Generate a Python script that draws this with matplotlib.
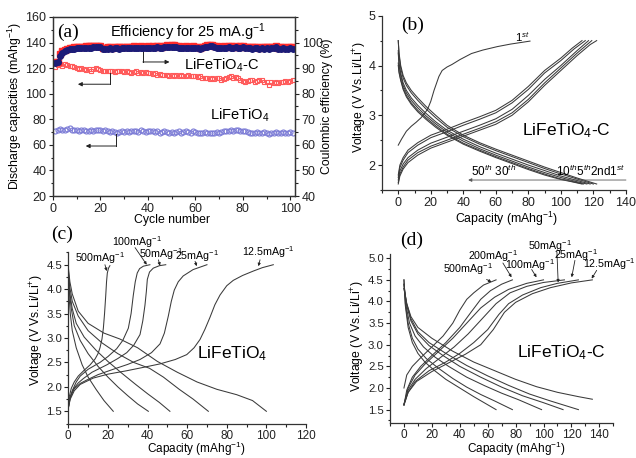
import matplotlib
matplotlib.use("Agg")
import matplotlib.pyplot as plt
from matplotlib.ticker import MultipleLocator

plt.rcParams['font.family'] = ['Liberation Sans', 'DejaVu Sans']
plt.rcParams['mathtext.fontset'] = 'custom'
plt.rcParams['mathtext.rm'] = 'Liberation Sans'
plt.rcParams['mathtext.it'] = 'Liberation Sans:italic'
plt.rcParams['mathtext.bf'] = 'Liberation Sans:bold'

# ---------------- (a) cycling data ----------------
cycles = list(range(1, 102))

cap_lft_c = [121, 122.5, 123, 122, 123, 122.5, 121.5, 122, 121, 120,
             119.5, 120, 119, 118.5, 119, 118, 119.5, 120, 119, 118.5,
             118, 117.5, 118, 117.5, 118, 117, 117.5, 118, 117.5, 117,
             117.5, 117, 116.5, 117, 117.5, 116.5, 117, 116, 117, 116.5,
             116, 115.5, 116, 115, 115.5, 115, 114.5, 115, 114, 114.5,
             114, 115, 114, 114.5, 113.5, 114, 115, 114, 113.5, 114,
             113, 113.5, 112.5, 112, 112.5, 111.5, 112, 111.5, 112, 112,
             111, 111.5, 112, 113, 113.5, 112.5, 113, 112, 111, 110,
             109.5, 110, 111, 110.5, 109.5, 110, 110.5, 111, 109.5, 109,
             107, 109, 108.5, 109, 108, 109.5, 109, 110, 109.5, 110, 110.5]

cap_lft = [71, 72, 72.5, 72, 71.5, 72.5, 73, 72, 71.5, 72,
           71, 71.5, 72, 71, 70.5, 71.5, 71, 72, 71.5, 72,
           71, 71.5, 70.5, 70, 70.5, 70, 69.5, 70, 70.5, 70,
           70.5, 70, 71, 70.5, 71, 70, 71.5, 70.5, 70, 71,
           70.5, 71, 70, 70.5, 69.5, 70, 70.5, 70, 69.5, 70,
           69.5, 70, 70.5, 69.5, 70, 70.5, 70, 69.5, 70.5, 70,
           69.5, 69, 69.5, 70, 69, 69.5, 69, 69.5, 70, 69.5,
           70, 70.5, 71, 70.5, 71.5, 71, 72, 71.5, 70.5, 71,
           70.5, 70, 69.5, 69, 69.5, 70, 69.5, 69, 70, 69.5,
           68.5, 69, 69.5, 70, 69.5, 69, 70, 69.5, 69, 70, 69.5]

eff_red = [92.5, 92.5, 95.5, 96.5, 97.0, 97.5, 97.8, 98.0, 98.1, 98.2,
           98.3, 98.4, 98.4, 98.5, 98.5, 98.6, 98.6, 98.7, 98.7, 98.8,
           98.0, 97.8, 98.2, 98.3, 98.0, 98.2, 98.4, 98.1, 98.3, 98.2,
           98.4, 98.2, 98.3, 98.5, 98.2, 98.4, 98.6, 98.3, 98.4, 98.5,
           98.3, 98.5, 98.4, 98.6, 98.5, 98.4, 98.8, 99.0, 98.7, 98.9,
           99.0, 98.6, 98.5, 98.4, 98.3, 98.5, 98.4, 98.3, 98.5, 98.4,
           98.2, 98.0, 98.4, 98.6, 98.9, 99.1, 99.2, 98.8, 98.5, 98.4,
           98.3, 98.5, 98.4, 98.6, 98.5, 98.3, 98.6, 98.4, 98.5, 98.6,
           98.2, 98.4, 98.3, 98.1, 98.3, 98.2, 98.0, 98.2, 98.1, 98.3,
           98.1, 98.2, 98.4, 98.6, 97.9, 98.1, 98.2, 98.0, 98.1, 98.2, 98.1]

eff_blue = [92.0, 92.2, 94.8, 95.8, 96.5, 97.0, 97.3, 97.5, 97.6, 97.7,
            97.8, 97.9, 97.9, 98.0, 98.0, 98.0, 98.1, 98.1, 98.2, 98.2,
            97.4, 97.3, 97.6, 97.8, 97.5, 97.7, 97.9, 97.6, 97.8, 97.7,
            97.9, 97.7, 97.8, 98.0, 97.7, 97.9, 98.0, 97.8, 97.9, 98.0,
            97.8, 98.0, 97.9, 98.1, 98.0, 97.9, 98.2, 98.4, 98.2, 98.3,
            98.4, 98.1, 98.0, 97.9, 97.8, 98.0, 97.9, 97.8, 98.0, 97.9,
            97.7, 97.5, 97.9, 98.1, 98.3, 98.5, 98.6, 98.3, 98.0, 97.9,
            97.8, 98.0, 97.9, 98.1, 98.0, 97.8, 98.1, 97.9, 98.0, 98.1,
            97.7, 97.9, 97.8, 97.6, 97.8, 97.7, 97.5, 97.7, 97.6, 97.8,
            97.6, 97.7, 97.9, 98.1, 97.4, 97.6, 97.7, 97.5, 97.6, 97.7, 97.6]

# ---------------- (b) LiFeTiO4-C, cycles ----------------
b_first_cap = [0, 2, 5, 8, 11, 14, 16, 18, 20, 22, 25, 27, 30, 33, 38, 45, 52, 61, 69, 75, 81]
b_first_v = [2.4, 2.52, 2.68, 2.78, 2.86, 2.95, 3.03, 3.12, 3.28, 3.5, 3.78, 3.9, 3.97, 4.02, 4.12,
             4.24, 4.31, 4.38, 4.43, 4.46, 4.49]

b_charge_cap = [
    [0, 1, 3, 6, 12, 20, 30, 40, 50, 60, 70, 80, 90, 100, 107, 113],
    [0, 1, 3, 6, 12, 20, 30, 40, 50, 60, 70, 80, 90, 100, 108, 115],
    [0, 1, 3, 6, 12, 20, 30, 40, 50, 60, 70, 80, 90, 100, 110, 117],
    [0, 1, 3, 6, 12, 20, 30, 40, 50, 60, 70, 80, 90, 100, 110, 119],
    [0, 1, 3, 6, 12, 20, 30, 40, 50, 60, 70, 80, 90, 100, 110, 118, 122],
]
b_charge_v = [
    [1.8, 2.0, 2.15, 2.3, 2.45, 2.6, 2.72, 2.85, 2.97, 3.1, 3.3, 3.58, 3.9, 4.15, 4.35, 4.5],
    [1.75, 1.95, 2.1, 2.25, 2.4, 2.55, 2.67, 2.8, 2.92, 3.05, 3.25, 3.52, 3.85, 4.1, 4.33, 4.5],
    [1.7, 1.88, 2.02, 2.15, 2.3, 2.44, 2.56, 2.68, 2.8, 2.93, 3.12, 3.4, 3.72, 4.0, 4.3, 4.5],
    [1.65, 1.82, 1.96, 2.1, 2.25, 2.38, 2.5, 2.62, 2.74, 2.87, 3.05, 3.32, 3.65, 3.95, 4.25, 4.5],
    [1.62, 1.78, 1.92, 2.05, 2.2, 2.34, 2.46, 2.58, 2.7, 2.82, 3.0, 3.27, 3.6, 3.9, 4.2, 4.42, 4.5],
]

b_dis_cap = [
    [0, 0.5, 1.5, 3, 5, 8, 12, 17, 23, 30, 40, 50, 60, 70, 80, 90, 100, 110, 122],
    [0, 0.5, 1.5, 3, 5, 8, 12, 17, 23, 30, 40, 50, 60, 70, 80, 90, 100, 110, 120],
    [0, 0.5, 1.5, 3, 5, 8, 12, 17, 23, 30, 40, 50, 60, 70, 80, 90, 100, 110, 118],
    [0, 0.5, 1.5, 3, 5, 8, 12, 17, 23, 30, 40, 50, 60, 70, 80, 90, 100, 108, 116],
    [0, 0.5, 1.5, 3, 5, 8, 12, 17, 23, 30, 40, 50, 60, 70, 80, 90, 100, 107, 114],
    [0, 0.5, 1.5, 3, 5, 8, 12, 17, 23, 30, 40, 50, 60, 70, 80, 90, 100, 106, 113],
]
b_dis_v = [
    [4.5, 4.25, 4.0, 3.8, 3.65, 3.5, 3.35, 3.18, 3.0, 2.8, 2.6, 2.45, 2.32, 2.2, 2.08, 1.96, 1.85, 1.74, 1.62],
    [4.5, 4.2, 3.95, 3.75, 3.6, 3.45, 3.3, 3.13, 2.95, 2.76, 2.57, 2.42, 2.29, 2.17, 2.05, 1.93, 1.82, 1.72, 1.62],
    [4.3, 4.05, 3.85, 3.65, 3.5, 3.35, 3.2, 3.04, 2.87, 2.7, 2.52, 2.37, 2.24, 2.12, 2.0, 1.89, 1.78, 1.69, 1.62],
    [4.25, 4.0, 3.8, 3.6, 3.45, 3.3, 3.15, 2.99, 2.83, 2.66, 2.48, 2.33, 2.2, 2.08, 1.96, 1.85, 1.75, 1.68, 1.62],
    [4.05, 3.88, 3.72, 3.55, 3.4, 3.25, 3.1, 2.95, 2.79, 2.62, 2.44, 2.3, 2.17, 2.05, 1.93, 1.82, 1.72, 1.67, 1.62],
    [4.0, 3.85, 3.7, 3.52, 3.37, 3.22, 3.07, 2.92, 2.76, 2.6, 2.42, 2.28, 2.15, 2.03, 1.91, 1.8, 1.71, 1.67, 1.62],
]

# ---------------- (c) LiFeTiO4, rates ----------------
c_rates = ['500mAg$^{-1}$', '100mAg$^{-1}$', '50mAg$^{-1}$', '25mAg$^{-1}$', '12.5mAg$^{-1}$']
c_charge_cap = [
    [0, 0.5, 1.5, 3, 5, 8, 11, 13.5, 15, 16, 17, 17.7, 18.3, 18.9, 19.3, 19.7, 20.3, 21],
    [0, 0.7, 2, 4, 6, 10, 16, 20, 24.4, 27.5, 30.3, 31.7, 32.8, 33.8, 34.8, 36, 37.9, 41.2],
    [0, 0.8, 2.5, 5, 7.6, 12, 19.4, 25, 29.5, 33, 36.2, 37.6, 38.7, 39.4, 39.9, 41, 42.9, 46, 49.2],
    [0, 1, 3, 6, 9.3, 15, 22.7, 30, 36.2, 42, 46.3, 48.5, 50.5, 52, 53.5, 55.5, 58, 63, 70],
    [0, 1, 3, 6, 12.6, 20, 29.5, 38, 46.3, 54, 59.8, 63.5, 66.5, 69, 71.5, 74, 76.6, 80, 83.3, 88,
     93.4, 98, 103.5],
]
c_charge_v = [
    [1.6, 1.8, 1.97, 2.1, 2.22, 2.34, 2.45, 2.57, 2.68, 2.8, 2.98, 3.2, 3.5, 3.87, 4.15, 4.33, 4.43, 4.48],
    [1.55, 1.75, 1.92, 2.1, 2.22, 2.36, 2.5, 2.62, 2.78, 2.95, 3.2, 3.5, 3.87, 4.15, 4.33, 4.42, 4.47, 4.5],
    [1.58, 1.78, 1.95, 2.08, 2.17, 2.3, 2.45, 2.58, 2.7, 2.85, 3.07, 3.35, 3.67, 3.95, 4.2, 4.35, 4.43, 4.48, 4.5],
    [1.57, 1.78, 1.96, 2.07, 2.14, 2.25, 2.36, 2.46, 2.56, 2.7, 2.88, 3.1, 3.45, 3.75, 3.98, 4.15, 4.27, 4.4, 4.5],
    [1.57, 1.75, 1.92, 2.05, 2.18, 2.26, 2.33, 2.4, 2.47, 2.56, 2.66, 2.8, 2.97, 3.18, 3.42, 3.68, 3.88,
     4.07, 4.18, 4.28, 4.37, 4.44, 4.5],
]
c_dis_cap = [
    [0, 0.3, 1, 2, 4, 7, 10, 14, 18, 22.7],
    [0, 0.5, 1.5, 3, 6, 10, 15, 20, 25, 30, 35, 40.4],
    [0, 0.6, 2, 4, 8, 14, 20, 27, 34, 40, 46, 51.3],
    [0, 0.7, 2, 5, 10, 17, 25, 33, 41, 48, 56, 63, 70.7],
    [0, 0.8, 2, 5, 10, 18, 26, 35, 45, 55, 65, 75, 85, 93, 100],
]
c_dis_v = [
    [4.3, 3.9, 3.5, 3.15, 2.8, 2.45, 2.2, 1.95, 1.72, 1.5],
    [4.3, 3.95, 3.6, 3.25, 2.95, 2.68, 2.42, 2.2, 2.0, 1.82, 1.65, 1.5],
    [4.35, 3.95, 3.6, 3.3, 3.02, 2.75, 2.52, 2.28, 2.05, 1.86, 1.68, 1.5],
    [4.4, 4.05, 3.75, 3.45, 3.15, 2.9, 2.68, 2.5, 2.38, 2.2, 1.95, 1.75, 1.5],
    [4.45, 4.15, 3.9, 3.55, 3.3, 3.1, 2.98, 2.8, 2.52, 2.3, 2.1, 1.95, 1.84, 1.72, 1.5],
]

# ---------------- (d) LiFeTiO4-C, rates ----------------
d_rates = ['500mAg$^{-1}$', '200mAg$^{-1}$', '100mAg$^{-1}$', '50mAg$^{-1}$', '25mAg$^{-1}$', '12.5mAg$^{-1}$']
d_charge_cap = [
    [0, 2, 6, 12, 20, 28, 35, 40, 45, 50, 57, 66],
    [0, 2, 6, 12, 20, 30, 40, 48, 55, 62, 70, 77.7],
    [0, 3, 8, 15, 25, 35, 45, 55, 65, 75, 88, 100],
    [0, 3, 8, 16, 26, 36, 46, 56, 66, 76, 88, 100, 115],
    [0, 3, 8, 18, 30, 40, 50, 60, 68, 75, 85, 98, 110, 125],
    [0, 3, 9, 20, 32, 44, 55, 64, 72, 80, 92, 105, 120, 135],
]
d_charge_v = [
    [2.0, 2.3, 2.5, 2.7, 2.95, 3.2, 3.5, 3.8, 4.05, 4.2, 4.38, 4.5],
    [1.6, 1.95, 2.25, 2.5, 2.75, 3.05, 3.4, 3.75, 4.05, 4.25, 4.4, 4.5],
    [1.62, 2.0, 2.3, 2.55, 2.85, 3.15, 3.5, 3.85, 4.1, 4.28, 4.42, 4.5],
    [1.62, 1.95, 2.2, 2.45, 2.7, 2.95, 3.25, 3.6, 3.95, 4.2, 4.35, 4.44, 4.5],
    [1.6, 1.9, 2.15, 2.4, 2.6, 2.8, 3.05, 3.35, 3.7, 3.95, 4.15, 4.32, 4.42, 4.5],
    [1.62, 1.9, 2.15, 2.38, 2.58, 2.78, 3.0, 3.35, 3.75, 3.98, 4.18, 4.32, 4.43, 4.5],
]
d_dis_cap = [
    [0, 1, 3, 6, 10, 15, 22, 30, 40, 50, 58, 66],
    [0, 1, 3, 6, 10, 16, 25, 35, 45, 55, 65, 77.7],
    [0, 1.5, 4, 8, 14, 22, 32, 45, 58, 70, 82, 98.6],
    [0, 2, 5, 10, 18, 28, 40, 55, 70, 85, 100, 114],
    [0, 2, 5, 10, 18, 30, 45, 60, 75, 90, 105, 125],
    [0, 2, 5, 10, 20, 35, 50, 65, 80, 95, 110, 125, 135],
]
d_dis_v = [
    [4.5, 3.9, 3.4, 3.05, 2.8, 2.6, 2.4, 2.2, 2.0, 1.8, 1.65, 1.5],
    [4.5, 3.95, 3.5, 3.15, 2.9, 2.68, 2.45, 2.22, 2.02, 1.85, 1.7, 1.5],
    [4.4, 3.9, 3.5, 3.2, 2.95, 2.72, 2.5, 2.25, 2.05, 1.88, 1.73, 1.5],
    [4.4, 3.9, 3.55, 3.25, 2.98, 2.75, 2.5, 2.25, 2.02, 1.82, 1.66, 1.5],
    [4.3, 3.95, 3.6, 3.3, 3.05, 2.8, 2.52, 2.28, 2.06, 1.86, 1.7, 1.5],
    [4.3, 3.95, 3.65, 3.4, 3.15, 2.85, 2.6, 2.4, 2.2, 2.03, 1.9, 1.8, 1.74],
]

LINE = '#3a3a3a'
LAB = 8.8


def style(ax, box=False, xsize=9, ysize=9, pad=1.8):
    ax.tick_params(which='both', direction='out', width=0.8, colors='#222222', pad=pad)
    ax.tick_params(axis='x', labelsize=xsize)
    ax.tick_params(axis='y', labelsize=ysize)
    ax.tick_params(which='major', length=3)
    ax.tick_params(which='minor', length=1.8)
    for s in ax.spines.values():
        s.set_linewidth(0.9)
        s.set_color('#333333')
    if not box:
        ax.spines['top'].set_visible(False)
        ax.spines['right'].set_visible(False)


fig = plt.figure(figsize=(6.36, 4.58), dpi=100)

# ===== (a) =====
ax_a = fig.add_axes([0.0833, 0.572, 0.3805, 0.391])
style(ax_a, box=True)
ax_a.plot(cycles, cap_lft_c, 's', ms=3.4, mfc='none', mec='#ff5a5a', mew=0.8)
ax_a.plot(cycles, cap_lft, 'o', ms=3.6, mfc='none', mec='#7b7bd6', mew=0.8)
ax_a.set_xlim(0, 102)
ax_a.set_ylim(20, 160)
ax_a.xaxis.set_major_locator(MultipleLocator(20))
ax_a.xaxis.set_minor_locator(MultipleLocator(10))
ax_a.yaxis.set_major_locator(MultipleLocator(20))
ax_a.yaxis.set_minor_locator(MultipleLocator(10))
ax_a.set_xlabel('Cycle number', fontsize=LAB, va='center')
ax_a.xaxis.set_label_coords(0.493, -0.134)
ax_a.set_ylabel('Discharge capacities (mAhg$^{-1}$)', fontsize=LAB, va='center')
ax_a.yaxis.set_label_coords(-0.157, 0.503)

ax_a2 = ax_a.twinx()
style(ax_a2, box=True)
ax_a2.plot(cycles, eff_red, 's', ms=3.8, color='#ff2a2a', mec='#ff2a2a')
ax_a2.plot(cycles, eff_blue, 'o', ms=4.0, color='#1c1c78', mec='#1c1c78')
ax_a2.set_ylim(40, 110)
ax_a2.set_yticks([40, 50, 60, 70, 80, 90, 100])
ax_a2.yaxis.set_minor_locator(MultipleLocator(5))
ax_a2.set_ylabel('Coulombic efficiency (%)', fontsize=LAB, va='center')
ax_a2.yaxis.set_label_coords(1.134, 0.503)

ax_a.text(6.2, 148, '(a)', family='Liberation Serif', fontsize=14, ha='center', va='center')
ax_a.text(23.9, 148, 'Efficiency for 25 mA.g$^{-1}$', fontsize=10.5, ha='left', va='center')
ax_a.text(55.4, 122.2, 'LiFeTiO$_4$-C', fontsize=10.5, ha='left', va='center')
ax_a.text(66.2, 83, 'LiFeTiO$_4$', fontsize=10.5, ha='left', va='center')

arr = dict(arrowstyle='-|>', color='#222222', lw=0.7, mutation_scale=6, shrinkA=0, shrinkB=0)
ax_a.plot([37.9, 37.9], [134, 124.8], color='#222222', lw=0.7)
ax_a.annotate('', xy=(49.1, 124.8), xytext=(37.9, 124.8), arrowprops=arr)
ax_a.plot([23.9, 23.9], [116.2, 107.4], color='#222222', lw=0.7)
ax_a.annotate('', xy=(10.5, 107.4), xytext=(23.9, 107.4), arrowprops=arr)
ax_a.plot([26.7, 26.7], [68.8, 59.1], color='#222222', lw=0.7)
ax_a.annotate('', xy=(13.8, 59.1), xytext=(26.7, 59.1), arrowprops=arr)

# ===== (b) =====
ax_b = fig.add_axes([0.6006, 0.5852, 0.3836, 0.3805])
style(ax_b)
ax_b.plot(b_first_cap, b_first_v, color=LINE, lw=0.75)
for cx, vy in zip(b_charge_cap, b_charge_v):
    ax_b.plot(cx, vy, color=LINE, lw=0.75)
for cx, vy in zip(b_dis_cap, b_dis_v):
    ax_b.plot(cx, vy, color=LINE, lw=0.75)
ax_b.set_xlim(-10, 140)
ax_b.set_ylim(1.5, 5.0)
ax_b.xaxis.set_major_locator(MultipleLocator(20))
ax_b.xaxis.set_minor_locator(MultipleLocator(10))
ax_b.yaxis.set_major_locator(MultipleLocator(1))
ax_b.yaxis.set_minor_locator(MultipleLocator(0.5))
ax_b.set_xlabel('Capacity (mAhg$^{-1}$)', fontsize=LAB, va='center')
ax_b.xaxis.set_label_coords(0.511, -0.167)
ax_b.set_ylabel('Voltage (V Vs.Li/Li$^{+}$)', fontsize=LAB, va='center')
ax_b.yaxis.set_label_coords(-0.090, 0.53)
ax_b.text(9, 4.8, '(b)', family='Liberation Serif', fontsize=14, ha='center', va='center')
ax_b.text(76, 4.58, '1$^{st}$', fontsize=8, ha='center', va='center')
ax_b.text(103.5, 2.69, 'LiFeTiO$_4$-C', fontsize=12.5, ha='center', va='center')
ax_b.annotate('', xy=(43, 1.70), xytext=(140, 1.70), annotation_clip=False,
              arrowprops=dict(arrowstyle='-|>', color='#555555', lw=0.6, mutation_scale=5,
                              shrinkA=0, shrinkB=0))
ax_b.text(45, 1.73, '50$^{th}$ 30$^{th}$', fontsize=8.5, ha='left', va='bottom')
ax_b.text(97, 1.73, '10$^{th}$5$^{th}$2nd1$^{st}$', fontsize=8.5, ha='left', va='bottom', clip_on=False)

# ===== (c) =====
ax_c = fig.add_axes([0.1074, 0.0753, 0.3737, 0.3734])
style(ax_c, xsize=8.5, ysize=8.2, pad=1.4)
for cx, vy in zip(c_charge_cap, c_charge_v):
    ax_c.plot(cx, vy, color=LINE, lw=0.75)
for cx, vy in zip(c_dis_cap, c_dis_v):
    ax_c.plot(cx, vy, color=LINE, lw=0.75)
ax_c.set_xlim(0, 120)
ax_c.set_ylim(1.25, 4.75)
ax_c.xaxis.set_major_locator(MultipleLocator(20))
ax_c.xaxis.set_minor_locator(MultipleLocator(10))
ax_c.yaxis.set_major_locator(MultipleLocator(0.5))
ax_c.yaxis.set_minor_locator(MultipleLocator(0.25))
ax_c.set_xlabel('Capacity (mAhg$^{-1}$)', fontsize=8.5, va='center')
ax_c.xaxis.set_label_coords(0.540, -0.149)
ax_c.set_ylabel('Voltage (V Vs.Li/Li$^{+}$)', fontsize=LAB, va='center')
ax_c.yaxis.set_label_coords(-0.133, 0.547)
ax_c.text(64.8, 2.67, 'LiFeTiO$_4$', fontsize=12.5, ha='left', va='center')
fig.text(62 / 636, 1 - 234 / 458, '(c)', family='Liberation Serif', fontsize=14, ha='center', va='center')

c_label_xy = [(16.0, 4.63), (34.5, 4.96), (46.8, 4.71), (64.8, 4.67), (100.8, 4.75)]
c_tail = [(18.5, 4.5), (33.7, 4.85), (45.5, 4.6), (64.0, 4.57), (96.8, 4.6)]
c_head = [(19.4, 4.37), (39.6, 4.5), (46.3, 4.48), (64.8, 4.47), (96.0, 4.47)]
small_arr = dict(arrowstyle='-|>', color='#222222', lw=0.6, mutation_scale=4, shrinkA=0, shrinkB=0)
for lab, lxy, t, h in zip(c_rates, c_label_xy, c_tail, c_head):
    ax_c.text(lxy[0], lxy[1], lab, fontsize=7.7, ha='center', va='center', clip_on=False)
    ax_c.annotate('', xy=h, xytext=t, arrowprops=small_arr, annotation_clip=False)

# ===== (d) =====
ax_d = fig.add_axes([0.6132, 0.0773, 0.3511, 0.3683])
style(ax_d, xsize=8.5, ysize=8.2, pad=1.4)
for cx, vy in zip(d_charge_cap, d_charge_v):
    ax_d.plot(cx, vy, color=LINE, lw=0.75)
for cx, vy in zip(d_dis_cap, d_dis_v):
    ax_d.plot(cx, vy, color=LINE, lw=0.75)
ax_d.set_xlim(-10, 150)
ax_d.set_ylim(1.2, 5.1)
ax_d.set_xticks([0, 20, 40, 60, 80, 100, 120, 140])
ax_d.xaxis.set_minor_locator(MultipleLocator(10))
ax_d.set_yticks([1.5, 2.0, 2.5, 3.0, 3.5, 4.0, 4.5, 5.0])
ax_d.yaxis.set_minor_locator(MultipleLocator(0.25))
ax_d.set_xlabel('Capacity (mAhg$^{-1}$)', fontsize=8.5, va='center')
ax_d.xaxis.set_label_coords(0.567, -0.156)
ax_d.set_ylabel('Voltage (V Vs.Li/Li$^{+}$)', fontsize=LAB, va='center')
ax_d.yaxis.set_label_coords(-0.142, 0.511)
ax_d.text(80.7, 2.82, 'LiFeTiO$_4$-C', fontsize=12.5, ha='left', va='center')
fig.text(412 / 636, 1 - 240 / 458, '(d)', family='Liberation Serif', fontsize=14, ha='center', va='center')

d_label_xy = [(45.7, 4.76), (63.6, 5.05), (90.2, 4.85), (104.6, 5.28), (123.0, 5.08), (147.0, 4.86)]
d_tail = [(59.2, 4.51), (70.9, 4.89), (91.5, 4.74), (109.6, 5.15), (122.5, 4.95), (138.1, 4.72)]
d_head = [(62.7, 4.45), (77.1, 4.56), (95.0, 4.56), (110.5, 4.44), (120.2, 4.56), (134.5, 4.53)]
for lab, lxy, t, h in zip(d_rates, d_label_xy, d_tail, d_head):
    ax_d.text(lxy[0], lxy[1], lab, fontsize=7.7, ha='center', va='center', clip_on=False)
    ax_d.annotate('', xy=h, xytext=t, arrowprops=small_arr, annotation_clip=False)

fig.savefig('out.png', dpi=100)
